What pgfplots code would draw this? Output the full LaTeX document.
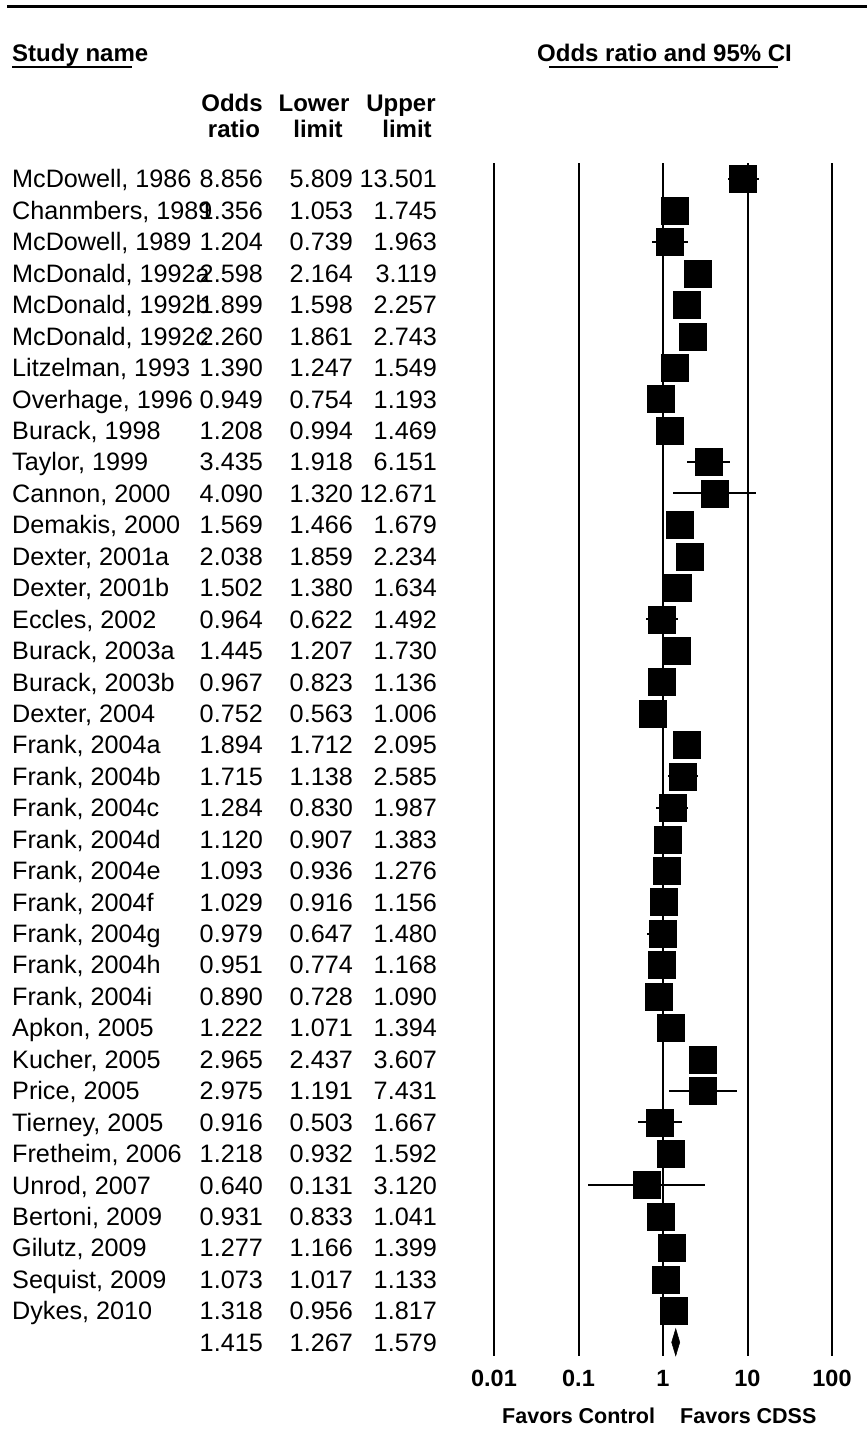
\documentclass[border=0pt]{standalone}
\usepackage{fontspec}
\setmainfont{Liberation Sans}
\usepackage{pgfplots}
\usepackage{pgfplotstable}
\pgfplotsset{compat=1.18}

\pgfplotstableread[col sep=semicolon]{
idx;name;or;lo;hi
0;McDowell, 1986;8.856;5.809;13.501
1;Chanmbers, 1989;1.356;1.053;1.745
2;McDowell, 1989;1.204;0.739;1.963
3;McDonald, 1992a;2.598;2.164;3.119
4;McDonald, 1992b;1.899;1.598;2.257
5;McDonald, 1992c;2.260;1.861;2.743
6;Litzelman, 1993;1.390;1.247;1.549
7;Overhage, 1996;0.949;0.754;1.193
8;Burack, 1998;1.208;0.994;1.469
9;Taylor, 1999;3.435;1.918;6.151
10;Cannon, 2000;4.090;1.320;12.671
11;Demakis, 2000;1.569;1.466;1.679
12;Dexter, 2001a;2.038;1.859;2.234
13;Dexter, 2001b;1.502;1.380;1.634
14;Eccles, 2002;0.964;0.622;1.492
15;Burack, 2003a;1.445;1.207;1.730
16;Burack, 2003b;0.967;0.823;1.136
17;Dexter, 2004;0.752;0.563;1.006
18;Frank, 2004a;1.894;1.712;2.095
19;Frank, 2004b;1.715;1.138;2.585
20;Frank, 2004c;1.284;0.830;1.987
21;Frank, 2004d;1.120;0.907;1.383
22;Frank, 2004e;1.093;0.936;1.276
23;Frank, 2004f;1.029;0.916;1.156
24;Frank, 2004g;0.979;0.647;1.480
25;Frank, 2004h;0.951;0.774;1.168
26;Frank, 2004i;0.890;0.728;1.090
27;Apkon, 2005;1.222;1.071;1.394
28;Kucher, 2005;2.965;2.437;3.607
29;Price, 2005;2.975;1.191;7.431
30;Tierney, 2005;0.916;0.503;1.667
31;Fretheim, 2006;1.218;0.932;1.592
32;Unrod, 2007;0.640;0.131;3.120
33;Bertoni, 2009;0.931;0.833;1.041
34;Gilutz, 2009;1.277;1.166;1.399
35;Sequist, 2009;1.073;1.017;1.133
36;Dykes, 2010;1.318;0.956;1.817
}\studies

\pgfplotstableread[col sep=semicolon]{
idx;or;lo;hi
37;1.415;1.267;1.579
}\summary

\begin{document}
\begin{tikzpicture}[x=1pt,y=1pt]
\useasboundingbox (0,0) rectangle (867,1432);
% top rule
\draw[line width=3pt] (7,1425) -- (867,1425);
% headers
\node[anchor=base west, inner sep=0pt, font=\fontsize{24}{28}\bfseries\selectfont] at (12,1370) {Study name};
\draw[line width=1.3pt] (12,1365) -- (132,1365);
\node[anchor=base west, inner sep=0pt, font=\fontsize{24}{28}\bfseries\selectfont] at (537,1370) {Odds ratio and 95\% CI};
\draw[line width=1.3pt] (549,1365) -- (778,1365);
\begin{scope}[every node/.style={anchor=base, inner sep=0pt, font=\fontsize{24}{28}\bfseries\selectfont}]
\node at (232,1320) {Odds};
\node at (234,1294) {ratio};
\node at (314,1320) {Lower};
\node at (318,1294) {limit};
\node at (401,1320) {Upper};
\node at (407,1294) {limit};
\end{scope}
\node[anchor=base west, inner sep=0pt, font=\fontsize{21.5}{26}\bfseries\selectfont] at (502,9) {Favors Control};
\node[anchor=base west, inner sep=0pt, font=\fontsize{21.5}{26}\bfseries\selectfont] at (680,9) {Favors CDSS};

% text columns
\begin{axis}[at={(0pt,75.6pt)}, anchor=south west, scale only axis,
  width=867pt, height=1193.2pt, xmin=0, xmax=867, ymin=-0.5, ymax=37.45,
  y dir=reverse, hide axis, clip=false]
\addplot[draw=none, no markers, nodes near coords, point meta=explicit symbolic,
  nodes near coords style={font=\fontsize{25.2}{30}\selectfont, anchor=base west, inner sep=0pt, yshift=-9pt}]
  table[x expr=12, y=idx, meta=name] {\studies};
\addplot[draw=none, no markers, nodes near coords, point meta=explicit symbolic,
  nodes near coords style={font=\fontsize{25.2}{30}\selectfont, anchor=base east, inner sep=0pt, yshift=-9pt}]
  table[x expr=263, y=idx, meta=or] {\studies};
\addplot[draw=none, no markers, nodes near coords, point meta=explicit symbolic,
  nodes near coords style={font=\fontsize{25.2}{30}\selectfont, anchor=base east, inner sep=0pt, yshift=-9pt}]
  table[x expr=353, y=idx, meta=lo] {\studies};
\addplot[draw=none, no markers, nodes near coords, point meta=explicit symbolic,
  nodes near coords style={font=\fontsize{25.2}{30}\selectfont, anchor=base east, inner sep=0pt, yshift=-9pt}]
  table[x expr=437, y=idx, meta=hi] {\studies};
\addplot[draw=none, no markers, nodes near coords, point meta=explicit symbolic,
  nodes near coords style={font=\fontsize{25.2}{30}\selectfont, anchor=base east, inner sep=0pt, yshift=-9pt}]
  table[x expr=263, y=idx, meta=or] {\summary};
\addplot[draw=none, no markers, nodes near coords, point meta=explicit symbolic,
  nodes near coords style={font=\fontsize{25.2}{30}\selectfont, anchor=base east, inner sep=0pt, yshift=-9pt}]
  table[x expr=353, y=idx, meta=lo] {\summary};
\addplot[draw=none, no markers, nodes near coords, point meta=explicit symbolic,
  nodes near coords style={font=\fontsize{25.2}{30}\selectfont, anchor=base east, inner sep=0pt, yshift=-9pt}]
  table[x expr=437, y=idx, meta=hi] {\summary};
\end{axis}

% forest plot
\begin{axis}[at={(494pt,75.6pt)}, anchor=south west, scale only axis,
  width=338pt, height=1193.2pt, xmode=log, xmin=0.01, xmax=100,
  ymin=-0.5, ymax=37.45, y dir=reverse,
  xtick={0.01,0.1,1,10,100}, xticklabels={0.01,0.1,1,10,100},
  xminorticks=false, ytick=\empty, major tick length=0pt,
  axis line style={draw=none},
  xmajorgrids, major grid style={black, line width=2pt},
  xticklabel style={font=\fontsize{23.5}{28}\bfseries\selectfont, anchor=north, inner sep=0pt, yshift=-13.6pt},
  clip=false]
\addplot[black, only marks, mark=square*, mark size=13.5pt,
  mark options={fill=black, draw=black, line width=0.2pt},
  error bars/.cd, x dir=both, x explicit, error mark=none,
  error bar style={line width=2pt, black}]
  table[x=or, y=idx,
    x error plus expr=\thisrow{hi}-\thisrow{or},
    x error minus expr=\thisrow{or}-\thisrow{lo}] {\studies};
\addplot[fill=black, draw=black, line width=0.5pt]
  coordinates {(1.267,37) (1.415,36.57) (1.579,37) (1.415,37.43)} -- cycle;
\end{axis}
\end{tikzpicture}
\end{document}
